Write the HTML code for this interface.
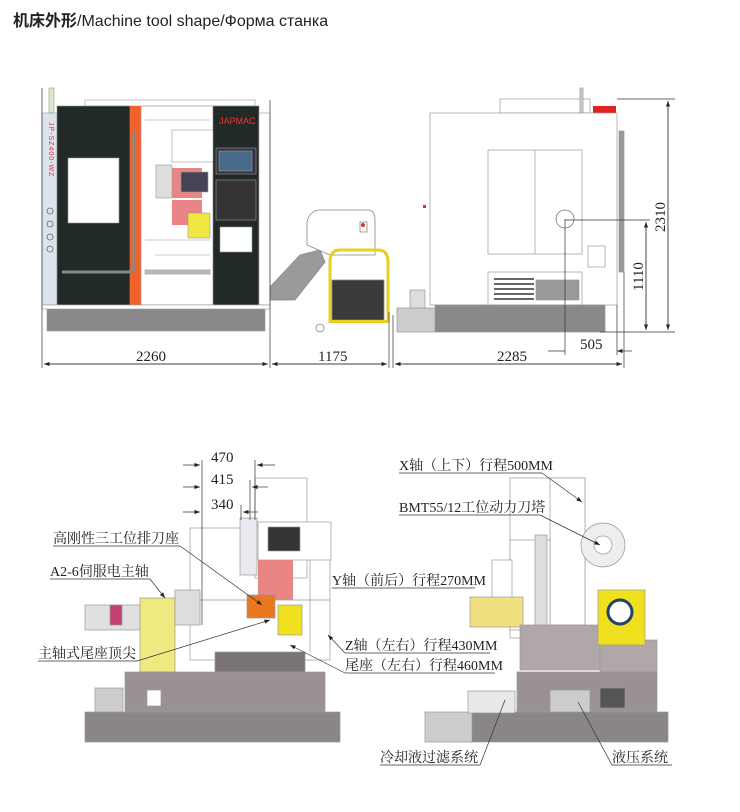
<!DOCTYPE html>
<html><head><meta charset="utf-8"><style>
html,body{margin:0;padding:0;background:#fff;width:740px;height:812px;overflow:hidden}
svg{display:block}
.t{font-family:"Liberation Serif","Noto Serif CJK SC",serif;font-size:14px;fill:#222}
.d{font-family:"Liberation Serif",serif;font-size:15px;fill:#222}
</style></head><body>
<svg width="740" height="812" viewBox="0 0 740 812" xmlns="http://www.w3.org/2000/svg">
<defs><marker id="a" markerWidth="8" markerHeight="6" refX="8" refY="3" orient="auto"><path d="M0,0 L8,3 L0,6z" fill="#222"/></marker></defs>
<text x="13" y="26" font-family="Liberation Sans,'Noto Sans CJK SC',sans-serif" font-size="16" fill="#222"><tspan font-weight="bold">机床外形</tspan>/Machine tool shape/Форма станка</text>

<!-- TOP LEFT MACHINE -->
<g stroke="#999" stroke-width="0.6">
<rect x="85" y="100" width="170" height="6" fill="#fff"/>
<rect x="49" y="88" width="5" height="25" fill="#dde8c8"/>
<rect x="42" y="113" width="15" height="192" fill="#dde3ec"/>
<rect x="57" y="106" width="73" height="199" fill="#222a28"/>
<rect x="68" y="158" width="51" height="65" fill="#fff"/>
<rect x="130" y="106" width="11" height="199" fill="#f0622a" stroke="none"/>
<rect x="141" y="106" width="72" height="199" fill="#fff"/>
<rect x="172" y="130" width="42" height="32" fill="#fff"/>
<line x1="145" y1="120" x2="210" y2="120"/>
<line x1="145" y1="240" x2="210" y2="240"/>
<line x1="155" y1="255" x2="210" y2="255"/>
<rect x="172" y="168" width="30" height="30" fill="#e98585" stroke="none"/>
<rect x="181" y="172" width="27" height="20" fill="#445" />
<rect x="172" y="200" width="30" height="25" fill="#e98585" stroke="none"/>
<rect x="188" y="213" width="22" height="25" fill="#f0e840"/>
<rect x="156" y="165" width="16" height="33" fill="#ddd"/>
<rect x="145" y="270" width="65" height="4" fill="#bbb"/>
<rect x="213" y="106" width="46" height="199" fill="#222a28"/>
<rect x="216" y="148" width="40" height="26" fill="#334"/>
<rect x="219" y="151" width="33" height="20" fill="#4a6a8a"/>
<rect x="216" y="180" width="40" height="40" fill="#333"/>
<rect x="220" y="227" width="32" height="25" fill="#fff"/>
<rect x="259" y="113" width="11" height="192" fill="#fff"/>
<rect x="47" y="305" width="218" height="26" fill="#8a8888"/>
<rect x="42" y="305" width="228" height="4" fill="#fff"/>
<path d="M62 272 H128 Q134 272 134 265 V132" fill="none" stroke="#888" stroke-width="3"/>
</g>
<text x="219" y="124" font-family="Liberation Sans,sans-serif" font-size="9" fill="#e33">JAPMAC</text>
<text x="49" y="122" font-family="Liberation Sans,sans-serif" font-size="7" fill="#e33" transform="rotate(90 49 122)" letter-spacing="1">JP-SZ400-WZ</text>
<g fill="none" stroke="#666" stroke-width="0.8"><circle cx="50" cy="211" r="3"/><circle cx="50" cy="224" r="3"/><circle cx="50" cy="237" r="3"/><circle cx="50" cy="249" r="3"/></g>

<!-- conveyor + cart -->
<g stroke="#888" stroke-width="0.8">
<path d="M270 287 L300 255 L320 250 L325 262 L295 300 L270 300z" fill="#9a9a9a"/>
<path d="M307 222 Q310 210 320 210 L370 210 Q375 212 375 220 L375 255 L330 255 L307 245z" fill="#fff"/>
<rect x="360" y="222" width="7" height="10" fill="#fff"/>
<circle cx="363" cy="225" r="2" fill="#d33" stroke="none"/>
<path d="M330 323 V262 Q330 250 340 250 H378 Q388 250 388 262 V323" fill="none" stroke="#e8d020" stroke-width="3"/>
<rect x="332" y="280" width="52" height="40" fill="#3a3a3a"/>
<rect x="329" y="320" width="59" height="3" fill="#e8d020" stroke="none"/>
<circle cx="320" cy="328" r="4" fill="#fff"/>
</g>

<!-- TOP RIGHT MACHINE -->
<g stroke="#999" stroke-width="0.7">
<rect x="500" y="99" width="90" height="14" fill="#fff"/>
<rect x="580" y="88" width="3" height="25" fill="#ccc"/>
<rect x="593" y="106" width="23" height="7" fill="#e02222" stroke="none"/>
<rect x="430" y="113" width="187" height="192" fill="#fff"/>
<rect x="488" y="150" width="94" height="104" fill="#fff"/>
<line x1="535" y1="150" x2="535" y2="254"/>
<rect x="588" y="246" width="17" height="21" fill="#fff"/>
<rect x="488" y="272" width="94" height="33" fill="#fff"/>
<rect x="536" y="280" width="43" height="20" fill="#999"/>
<g fill="#666" stroke="none"><rect x="494" y="278" width="40" height="2"/><rect x="494" y="283" width="40" height="2"/><rect x="494" y="288" width="40" height="2"/><rect x="494" y="293" width="40" height="2"/><rect x="494" y="298" width="40" height="2"/></g>
<rect x="619" y="131" width="5" height="141" fill="#999"/>
<rect x="435" y="305" width="170" height="27" fill="#8a8888"/>
<rect x="397" y="308" width="38" height="24" fill="#ccc"/>
<rect x="410" y="290" width="15" height="18" fill="#ddd"/>
<rect x="423" y="205" width="3" height="3" fill="#d33" stroke="none"/>
</g>
<circle cx="565" cy="219" r="9" fill="none" stroke="#777" stroke-width="0.8"/>

<!-- top dimensions -->
<g stroke="#333" stroke-width="0.7" fill="none">
<line x1="42" y1="88" x2="42" y2="368"/>
<line x1="270" y1="100" x2="270" y2="368"/>
<line x1="389" y1="312" x2="389" y2="368"/>
<line x1="393" y1="315" x2="393" y2="368"/>
<line x1="624" y1="272" x2="624" y2="368"/>
<line x1="617" y1="305" x2="617" y2="355"/>
<line x1="565" y1="219" x2="565" y2="355"/>
<line x1="44" y1="364" x2="268" y2="364" marker-end="url(#a)"/><line x1="268" y1="364" x2="44" y2="364" marker-end="url(#a)"/>
<line x1="272" y1="364" x2="387" y2="364" marker-end="url(#a)"/><line x1="387" y1="364" x2="272" y2="364" marker-end="url(#a)"/>
<line x1="395" y1="364" x2="622" y2="364" marker-end="url(#a)"/><line x1="622" y1="364" x2="395" y2="364" marker-end="url(#a)"/>
<line x1="548" y1="351" x2="565" y2="351"/>
<line x1="632" y1="351" x2="617" y2="351" marker-end="url(#a)"/>
<line x1="617" y1="99" x2="675" y2="99"/>
<line x1="565" y1="220" x2="650" y2="220"/>
<line x1="600" y1="332" x2="675" y2="332"/>
<line x1="668" y1="101" x2="668" y2="330" marker-end="url(#a)"/><line x1="668" y1="330" x2="668" y2="101" marker-end="url(#a)"/>
<line x1="646" y1="222" x2="646" y2="330" marker-end="url(#a)"/><line x1="646" y1="330" x2="646" y2="222" marker-end="url(#a)"/>
</g>
<text class="d" x="136" y="361">2260</text>
<text class="d" x="318" y="361">1175</text>
<text class="d" x="497" y="361">2285</text>
<text class="d" x="580" y="349">505</text>
<text class="d" x="0" y="0" transform="translate(665 232) rotate(-90)">2310</text>
<text class="d" x="0" y="0" transform="translate(643 291) rotate(-90)">1110</text>

<!-- BOTTOM LEFT -->
<g stroke="#999" stroke-width="0.7">
<rect x="190" y="528" width="140" height="132" fill="#fff"/>
<rect x="255" y="478" width="52" height="100" fill="#fff"/>
<rect x="258" y="522" width="73" height="38" fill="#fff"/>
<line x1="190" y1="600" x2="330" y2="600"/>
<line x1="310" y1="560" x2="310" y2="652"/>
<rect x="258" y="560" width="35" height="40" fill="#e98585" stroke="none"/>
<rect x="268" y="527" width="32" height="24" fill="#333"/>
<rect x="240" y="518" width="17" height="57" fill="#e8eaf0"/>
<rect x="85" y="605" width="55" height="25" fill="#e0e0e0"/>
<rect x="110" y="605" width="12" height="20" fill="#c04070"/>
<rect x="140" y="598" width="35" height="74" fill="#f0e880"/>
<rect x="175" y="590" width="25" height="35" fill="#ddd"/>
<rect x="247" y="595" width="28" height="23" fill="#e87820"/>
<rect x="278" y="605" width="24" height="30" fill="#f0e020"/>
<rect x="215" y="652" width="90" height="20" fill="#7a7474"/>
<rect x="125" y="672" width="200" height="40" fill="#9a9292"/>
<rect x="147" y="690" width="14" height="16" fill="#fff"/>
<rect x="85" y="712" width="255" height="30" fill="#8a8686"/>
<rect x="95" y="688" width="28" height="24" fill="#ccc"/>
</g>
<g stroke="#333" stroke-width="0.7" fill="none">
<line x1="202" y1="460" x2="202" y2="625"/>
<line x1="255" y1="460" x2="255" y2="520"/>
<line x1="250" y1="480" x2="250" y2="520"/>
<line x1="241" y1="505" x2="241" y2="520"/>
<line x1="183" y1="465" x2="200" y2="465" marker-end="url(#a)"/><line x1="275" y1="465" x2="257" y2="465" marker-end="url(#a)"/>
<line x1="183" y1="487" x2="200" y2="487" marker-end="url(#a)"/><line x1="268" y1="487" x2="252" y2="487" marker-end="url(#a)"/>
<line x1="183" y1="512" x2="200" y2="512" marker-end="url(#a)"/><line x1="258" y1="512" x2="243" y2="512" marker-end="url(#a)"/>
<line x1="53" y1="546" x2="180" y2="546"/><line x1="180" y1="546" x2="262" y2="605" marker-end="url(#a)"/>
<line x1="50" y1="579" x2="150" y2="579"/><line x1="150" y1="579" x2="165" y2="598" marker-end="url(#a)"/>
<line x1="38" y1="661" x2="137" y2="661"/><line x1="137" y1="661" x2="270" y2="620" marker-end="url(#a)"/>
<line x1="475" y1="588" x2="332" y2="588"/>
<line x1="345" y1="653" x2="490" y2="653"/><line x1="345" y1="653" x2="328" y2="635" marker-end="url(#a)"/>
<line x1="345" y1="673" x2="495" y2="673"/><line x1="345" y1="673" x2="290" y2="645" marker-end="url(#a)"/>
</g>
<text class="d" x="211" y="462">470</text>
<text class="d" x="211" y="484">415</text>
<text class="d" x="211" y="509">340</text>
<text class="t" x="53" y="543">高刚性三工位排刀座</text>
<text class="t" x="50" y="576">A2-6伺服电主轴</text>
<text class="t" x="38" y="658">主轴式尾座顶尖</text>
<text class="t" x="332" y="585">Y轴（前后）行程270MM</text>
<text class="t" x="345" y="650">Z轴（左右）行程430MM</text>
<text class="t" x="345" y="670">尾座（左右）行程460MM</text>

<!-- BOTTOM RIGHT -->
<g stroke="#999" stroke-width="0.7">
<rect x="510" y="478" width="75" height="160" fill="#fff"/>
<rect x="550" y="478" width="35" height="147" fill="#fff"/>
<rect x="510" y="540" width="40" height="90" fill="#fff"/>
<rect x="535" y="535" width="12" height="90" fill="#ddd"/>
<rect x="492" y="560" width="20" height="40" fill="#fff"/>
<rect x="470" y="597" width="53" height="30" fill="#f0e080"/>
<rect x="520" y="625" width="80" height="45" fill="#b0a8a8"/>
<rect x="600" y="640" width="57" height="32" fill="#b0a8a8"/>
<circle cx="603" cy="545" r="22" fill="#eee"/>
<circle cx="603" cy="545" r="9" fill="#fff"/>
<rect x="598" y="590" width="47" height="55" fill="#f0e020"/>
<circle cx="620" cy="612" r="12" fill="#fff" stroke="#246" stroke-width="3"/>
<rect x="517" y="672" width="140" height="40" fill="#9a9292"/>
<rect x="470" y="712" width="198" height="30" fill="#8a8686"/>
<rect x="425" y="712" width="47" height="30" fill="#ccc"/>
<rect x="468" y="691" width="47" height="22" fill="#e8e8e8"/>
<rect x="550" y="690" width="40" height="22" fill="#ccc"/>
<rect x="600" y="688" width="25" height="20" fill="#555"/>
</g>
<g stroke="#333" stroke-width="0.7" fill="none">
<line x1="399" y1="473" x2="542" y2="473"/><line x1="542" y1="473" x2="582" y2="502" marker-end="url(#a)"/>
<line x1="399" y1="515" x2="540" y2="515"/><line x1="540" y1="515" x2="600" y2="545" marker-end="url(#a)"/>
<line x1="380" y1="765" x2="480" y2="765"/><line x1="480" y1="765" x2="505" y2="700"/>
<line x1="612" y1="765" x2="672" y2="765"/><line x1="612" y1="765" x2="578" y2="702"/>
</g>
<text class="t" x="399" y="470">X轴（上下）行程500MM</text>
<text class="t" x="399" y="512">BMT55/12工位动力刀塔</text>
<text class="t" x="380" y="762">冷却液过滤系统</text>
<text class="t" x="612" y="762">液压系统</text>
</svg>
</body></html>
